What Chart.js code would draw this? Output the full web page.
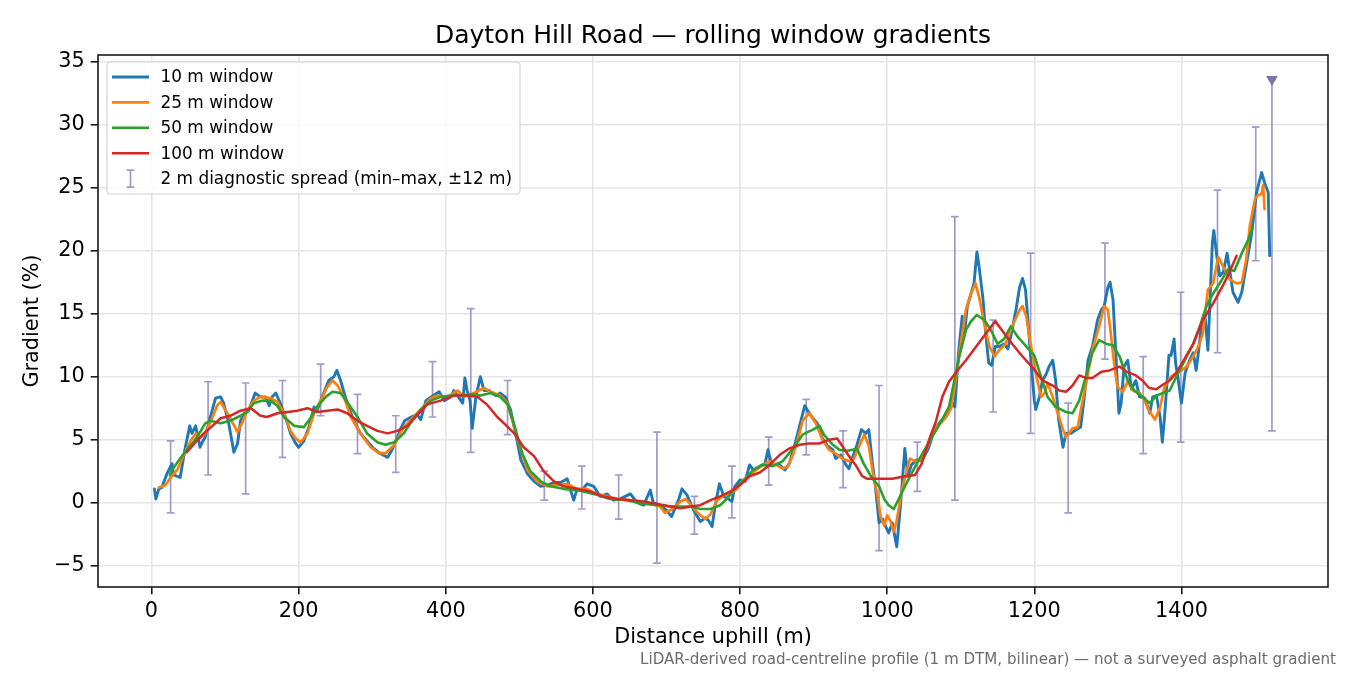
<!DOCTYPE html>
<html><head><meta charset="utf-8">
<script src="https://cdn.jsdelivr.net/npm/chart.js@4.4.0/dist/chart.umd.min.js"></script>
<style>html,body{margin:0;padding:0;background:#fff;}#wrap{width:1350px;height:675px;position:relative;}</style>
</head><body><div id="wrap"><canvas id="c" width="1350" height="675"></canvas></div>
<script>
const titleText = 'Dayton Hill Road \u2014 rolling window gradients';
const xLabelText = 'Distance uphill (m)';
const yLabelText = 'Gradient (%)';
const footText = 'LiDAR-derived road-centreline profile (1 m DTM, bilinear) \u2014 not a surveyed asphalt gradient';
const seriesLabels = ['10 m window', '25 m window', '50 m window', '100 m window'];
const errLabel = '2 m diagnostic spread (min\u2013max, \u00b112 m)';
const xTicks = [0, 200, 400, 600, 800, 1000, 1200, 1400];
const yTicks = [-5, 0, 5, 10, 15, 20, 25, 30, 35];

const dist10 = [4,6,10,14,21,28,30,39,46,52,
55,60,66,69,73,80,87,94,98,105,
112,117,121,126,132,141,148,155,160,164,
169,175,182,189,196,200,207,214,221,225,
232,241,248,252,257,266,275,284,293,302,
311,321,327,333,339,344,353,361,366,373,
380,391,398,407,411,416,423,426,429,433,
436,441,447,452,459,468,474,481,488,495,
502,511,520,529,538,547,556,565,569,574,
578,585,592,601,610,619,628,637,651,660,
669,678,682,691,700,707,714,717,721,728,
737,746,753,757,762,766,772,778,784,789,
793,800,807,813,818,827,834,838,843,852,
861,867,874,881,888,892,899,905,912,919,
926,930,937,944,948,953,959,965,971,975,
980,984,989,994,998,1002,1007,1013,1018,1024,
1028,1033,1040,1047,1056,1065,1075,1082,1089,1092,
1097,1102,1105,1109,1114,1118,1122,1125,1130,1134,
1138,1142,1147,1152,1159,1164,1168,1175,1180,1184,
1188,1192,1195,1200,1202,1207,1211,1216,1220,1225,
1229,1233,1239,1243,1250,1257,1263,1268,1273,1279,
1286,1291,1295,1300,1303,1307,1311,1315,1318,1322,
1327,1332,1338,1343,1350,1357,1361,1366,1371,1374,
1377,1380,1383,1386,1390,1392,1395,1400,1405,1411,
1416,1420,1423,1427,1432,1436,1439,1442,1444,1448,
1452,1457,1462,1466,1470,1477,1482,1488,1495,1502,
1509,1513,1518,1520];
const grad10 = [1.1,0.3,1.1,1.2,2.3,3.1,2.2,2.0,4.4,6.1,
5.5,6.1,4.4,4.8,5.2,6.8,8.3,8.4,7.9,6.3,
4.0,4.7,6.5,7.1,7.3,8.7,8.4,8.4,7.7,8.4,
8.7,7.9,6.8,5.5,4.7,4.4,4.9,6.0,7.6,7.3,
8.4,9.7,10.0,10.5,9.7,7.9,6.5,5.5,4.9,4.3,
3.9,3.6,4.2,5.0,5.9,6.5,6.8,7.0,6.6,8.1,
8.4,8.8,8.1,8.4,8.9,8.5,7.9,9.9,8.9,8.1,
5.9,8.4,10.0,8.9,8.9,8.5,8.7,8.4,7.4,5.5,
3.4,2.3,1.7,1.3,1.4,1.6,1.6,1.9,1.1,0.2,
1.0,1.0,1.5,1.3,0.5,0.7,0.2,0.3,0.7,0.0,
-0.2,1.0,0.0,-0.2,-0.6,-1.1,-0.1,0.3,1.1,0.6,
-0.6,-1.5,-1.2,-1.4,-1.9,-0.3,1.5,0.5,0.3,0.1,
1.3,1.8,1.7,3.0,2.6,2.9,3.1,4.2,3.0,3.1,
2.6,3.1,4.5,6.1,7.7,7.3,6.7,6.3,5.1,4.5,
4.2,3.5,3.8,3.0,2.7,3.6,4.6,5.8,5.5,5.8,
3.1,1.3,-1.6,-1.3,-1.9,-2.4,-1.6,-3.5,-0.3,4.3,
2.1,3.0,3.4,3.3,4.3,5.9,6.6,7.0,7.9,7.6,
11.9,14.8,13.4,15.6,16.6,17.4,19.9,18.7,16.3,13.4,
11.1,10.9,12.4,12.4,12.6,12.2,13.2,15.3,17.1,17.8,
16.9,14.0,11.6,8.1,7.4,8.4,9.7,10.2,10.8,11.3,
9.7,6.6,4.4,5.5,5.5,5.8,6.0,8.4,11.3,12.4,
14.5,15.3,15.6,17.1,17.5,16.1,11.6,7.1,7.9,10.8,
11.3,9.0,9.7,8.4,8.3,7.1,8.4,8.5,6.8,4.8,
6.8,9.2,11.7,11.7,13.0,11.1,10.0,7.9,10.3,11.3,
11.9,10.5,11.9,14.0,14.8,12.1,16.3,20.6,21.6,19.6,
18.0,18.3,19.8,18.3,16.7,15.9,16.7,18.8,21.2,24.6,
26.2,25.4,24.6,19.6];

const dist25 = [10,19,26,35,44,53,60,67,73,83,
89,94,101,107,117,123,130,139,148,162,
171,180,189,196,203,212,221,230,239,246,
253,262,271,280,289,298,307,318,330,343,
353,366,380,389,402,416,425,438,452,461,
474,484,493,502,511,524,538,551,565,578,
592,605,619,633,651,664,678,691,698,705,
712,719,726,735,744,753,760,769,778,787,
796,804,813,822,831,840,849,858,865,872,
879,885,894,903,912,921,930,939,948,955,
962,969,975,980,987,991,996,1000,1004,1009,
1013,1020,1027,1031,1038,1047,1056,1065,1071,1080,
1087,1093,1100,1107,1114,1120,1125,1132,1139,1146,
1152,1161,1170,1180,1184,1189,1195,1202,1209,1214,
1218,1225,1232,1239,1243,1252,1259,1264,1273,1279,
1288,1295,1300,1304,1309,1313,1320,1327,1334,1343,
1350,1356,1364,1371,1377,1386,1393,1400,1407,1416,
1423,1429,1436,1443,1450,1457,1466,1475,1482,1488,
1493,1500,1504,1509,1511,1513];
const grad25 = [1.2,1.4,2.0,2.6,3.8,4.9,5.5,5.2,5.5,6.8,
7.7,8.0,7.3,6.7,5.6,6.3,7.3,8.1,8.4,8.3,
8.0,7.1,5.7,5.1,4.8,5.5,7.1,8.1,9.2,9.7,
9.3,8.3,6.8,5.9,5.1,4.4,4.0,3.9,4.6,6.0,
6.6,7.4,8.3,8.5,8.4,8.9,8.4,8.7,9.1,8.8,
8.5,7.9,6.0,4.2,2.6,1.7,1.3,1.4,1.5,1.1,
1.1,0.7,0.5,0.3,0.2,0.1,-0.1,-0.3,-0.8,-0.6,
-0.3,0.1,0.3,-0.3,-0.9,-1.3,-0.9,0.2,0.6,0.7,
1.1,1.8,2.2,2.6,3.0,3.3,3.0,2.7,2.9,3.8,
5.1,6.5,7.1,6.3,5.0,4.2,3.9,3.5,3.3,3.5,
4.5,5.4,4.5,2.6,0.5,-1.1,-1.8,-1.0,-1.4,-2.3,
-1.4,1.0,2.6,3.5,3.3,3.4,4.6,6.0,6.2,6.8,
7.5,9.7,12.6,15.3,16.6,17.4,16.3,14.2,12.4,11.6,
12.1,12.6,14.0,15.3,15.6,14.8,12.6,10.3,8.4,8.7,
9.5,8.4,7.1,5.8,5.2,5.9,6.0,7.6,10.3,12.1,
14.0,15.6,15.3,13.4,10.8,9.2,8.8,9.6,8.9,8.7,
8.1,7.3,6.6,7.6,9.2,10.0,10.3,10.5,10.8,11.6,
12.4,13.4,16.9,17.4,19.5,18.7,17.7,17.4,17.5,19.3,
22.0,24.1,24.4,24.5,25.2,23.3];

const dist50 = [25,28,39,48,58,67,73,80,94,107,
121,130,139,150,162,171,180,194,207,216,
225,237,246,257,266,280,293,307,318,330,
343,353,366,380,393,407,420,434,447,461,
474,484,495,504,515,529,542,560,578,601,
623,646,669,691,706,719,733,746,760,773,
782,791,804,818,831,845,858,872,885,899,
908,914,926,935,944,953,959,968,980,989,
996,1002,1009,1015,1024,1033,1042,1051,1060,1070,
1084,1098,1107,1114,1122,1132,1141,1150,1159,1168,
1177,1189,1200,1209,1218,1229,1243,1252,1261,1270,
1279,1288,1298,1307,1316,1327,1336,1347,1357,1366,
1375,1384,1393,1400,1407,1416,1425,1434,1443,1454,
1463,1472,1482,1491,1497];
const grad50 = [2.2,2.6,3.5,4.2,4.9,5.7,6.3,6.5,6.3,6.5,
6.9,7.2,7.9,8.1,8.1,7.7,6.8,6.1,6.0,6.7,
7.6,8.4,8.8,8.7,8.0,6.8,5.5,4.8,4.6,4.8,
5.5,6.4,7.4,8.1,8.4,8.5,8.5,8.6,8.5,8.7,
8.4,7.8,5.8,3.9,2.5,1.7,1.3,1.1,1.0,0.7,
0.3,0.2,-0.1,-0.2,-0.3,-0.3,-0.3,-0.5,-0.5,-0.2,
0.3,1.0,1.7,2.6,3.0,2.9,3.3,4.3,5.4,5.8,
6.1,5.4,4.6,4.2,4.1,4.2,4.3,3.1,1.9,1.3,
0.3,-0.2,-0.5,0.2,1.3,2.3,3.3,4.2,5.1,6.1,
7.6,11.6,13.7,14.4,14.9,14.5,13.7,12.6,13.0,14.0,
13.2,12.4,11.7,10.0,8.4,7.6,7.2,7.1,8.1,10.0,
11.9,12.9,12.6,12.5,11.6,9.7,8.9,8.4,7.9,8.5,
8.7,8.9,10.0,10.8,11.6,12.6,14.0,15.6,16.6,17.6,
18.5,18.4,19.8,20.9,21.9];

const dist100 = [48,60,71,83,94,107,121,135,148,157,
171,185,198,212,225,239,253,266,280,293,
307,321,334,348,357,375,393,411,429,443,
456,470,481,493,506,520,533,547,560,578,
596,614,633,651,669,687,706,719,733,746,
760,773,787,800,813,827,840,854,867,881,
894,908,921,932,939,948,957,966,973,984,
1007,1024,1038,1047,1057,1066,1075,1084,1093,1107,
1121,1134,1147,1157,1170,1184,1198,1211,1225,1234,
1243,1252,1261,1270,1279,1291,1302,1316,1325,1338,
1347,1356,1366,1373,1384,1393,1402,1416,1429,1443,
1457,1466,1475];
const grad100 = [4.0,4.8,5.5,6.1,6.7,6.9,7.3,7.5,6.9,6.8,
7.1,7.2,7.3,7.5,7.2,7.3,7.4,7.1,6.5,6.1,
5.7,5.5,5.7,6.1,6.7,7.8,8.1,8.5,8.5,8.4,
7.8,6.8,6.2,5.5,4.4,3.7,2.5,1.7,1.3,1.1,
0.9,0.5,0.3,0.2,0.1,-0.1,-0.3,-0.45,-0.3,-0.2,
0.2,0.5,0.9,1.4,2.1,2.4,3.0,3.8,4.3,4.6,
4.7,4.7,5.0,5.1,4.5,3.7,3.0,2.1,1.9,1.9,
1.9,2.1,2.2,3.1,5.0,6.4,8.4,9.6,10.3,11.3,
12.4,13.4,14.4,13.6,12.6,11.6,10.7,9.7,9.3,8.9,
8.8,9.3,10.1,9.9,9.9,10.4,10.5,10.8,10.4,10.1,
9.7,9.1,9.0,9.3,9.7,10.3,11.2,12.6,14.5,15.8,
17.3,18.4,19.6];

const errDist = [26,77,128,178,230,280,332,382,434,484,534,585,635,687,738,789,839,890,940,989,1041,1092,1144,1195,1246,1296,1348,1399,1449,1501,1523];
const errMin = [-0.8,2.2,0.7,3.6,6.9,3.9,2.4,6.8,4.0,5.4,0.2,-0.5,-1.3,-4.8,-2.5,-1.2,1.4,3.8,1.2,-3.8,0.9,0.2,7.2,5.5,-0.8,11.4,3.9,4.8,11.9,19.2,5.7];
const errMax = [4.9,9.6,9.5,9.7,11.0,8.6,6.9,11.2,15.4,9.7,2.5,2.9,2.2,5.6,0.5,2.9,5.2,8.2,5.7,9.3,4.8,22.7,14.5,19.8,7.9,20.6,11.6,16.7,24.8,29.8,33.6];
const clipDist = [1523];
const clipVal = [33.6];

const colors = ['#1f77b4', '#ff7f0e', '#2ca02c', '#d62728'];
const widths = [2.9, 2.7, 2.6, 2.5];
const errColor = 'rgba(117,107,177,0.68)';
const FONT = "'DejaVu Sans', sans-serif";

function pts(xs, ys) { return xs.map((x, i) => ({x: x, y: ys[i]})); }
function fmt(v) { return v < 0 ? '\u2212' + Math.abs(v) : String(v); }

const seriesData = [pts(dist10, grad10), pts(dist25, grad25), pts(dist50, grad50), pts(dist100, grad100)];

const decor = {
  id: 'decor',
  beforeDatasetsDraw(chart) {
    const ctx = chart.ctx, xs = chart.scales.x, ys = chart.scales.y, a = chart.chartArea;
    ctx.save();
    ctx.beginPath(); ctx.rect(a.left, a.top, a.right - a.left, a.bottom - a.top); ctx.clip();
    ctx.strokeStyle = errColor; ctx.lineWidth = 1.7;
    errDist.forEach((d, i) => {
      const px = xs.getPixelForValue(d);
      const p1 = ys.getPixelForValue(errMin[i]), p2 = ys.getPixelForValue(errMax[i]);
      ctx.beginPath();
      ctx.moveTo(px, p1); ctx.lineTo(px, p2);
      ctx.moveTo(px - 3.8, p1); ctx.lineTo(px + 3.8, p1);
      ctx.moveTo(px - 3.8, p2); ctx.lineTo(px + 3.8, p2);
      ctx.stroke();
    });
    ctx.restore();
  },
  afterDraw(chart) {
    const ctx = chart.ctx, a = chart.chartArea;
    ctx.save();
    ctx.strokeStyle = '#1a1a1a'; ctx.lineWidth = 1.6;
    ctx.strokeRect(a.left, a.top, a.right - a.left, a.bottom - a.top);
    const lx = 107, ly = 62, lw = 413, lh = 132, r = 4;
    ctx.beginPath();
    ctx.moveTo(lx + r, ly); ctx.lineTo(lx + lw - r, ly); ctx.quadraticCurveTo(lx + lw, ly, lx + lw, ly + r);
    ctx.lineTo(lx + lw, ly + lh - r); ctx.quadraticCurveTo(lx + lw, ly + lh, lx + lw - r, ly + lh);
    ctx.lineTo(lx + r, ly + lh); ctx.quadraticCurveTo(lx, ly + lh, lx, ly + lh - r);
    ctx.lineTo(lx, ly + r); ctx.quadraticCurveTo(lx, ly, lx + r, ly); ctx.closePath();
    ctx.fillStyle = 'rgba(255,255,255,0.8)'; ctx.fill();
    ctx.strokeStyle = '#d4d4d4'; ctx.lineWidth = 1.2; ctx.stroke();
    ctx.font = '16.9px ' + FONT; ctx.textBaseline = 'middle'; ctx.textAlign = 'left';
    const rowY = i => 77 + i * 25.4;
    seriesLabels.forEach((lab, i) => {
      ctx.strokeStyle = colors[i]; ctx.lineWidth = widths[i];
      ctx.beginPath(); ctx.moveTo(112, rowY(i)); ctx.lineTo(149, rowY(i)); ctx.stroke();
      ctx.fillStyle = '#000'; ctx.fillText(lab, 160.5, rowY(i) + 1);
    });
    const ey = rowY(4);
    ctx.strokeStyle = errColor; ctx.lineWidth = 1.7;
    ctx.beginPath();
    ctx.moveTo(130.5, ey - 8.5); ctx.lineTo(130.5, ey + 8.5);
    ctx.moveTo(126.7, ey - 8.5); ctx.lineTo(134.3, ey - 8.5);
    ctx.moveTo(126.7, ey + 8.5); ctx.lineTo(134.3, ey + 8.5);
    ctx.stroke();
    ctx.fillStyle = '#000'; ctx.fillText(errLabel, 160.5, ey + 1);
    ctx.textAlign = 'center'; ctx.textBaseline = 'alphabetic';
    ctx.font = '25px ' + FONT; ctx.fillText(titleText, (a.left + a.right) / 2, 43);
    ctx.font = '20.8px ' + FONT; ctx.textBaseline = 'middle';
    ctx.fillText(xLabelText, (a.left + a.right) / 2, 638);
    ctx.save(); ctx.translate(33, (a.top + a.bottom) / 2); ctx.rotate(-Math.PI / 2);
    ctx.fillText(yLabelText, 0, 0); ctx.restore();
    ctx.font = '15.1px ' + FONT; ctx.fillStyle = '#6b6b6b'; ctx.textAlign = 'right';
    ctx.fillText(footText, 1336, 660);
    ctx.restore();
  }
};

const lineDs = (i, order) => ({
  type: 'line', label: seriesLabels[i], data: seriesData[i],
  borderColor: colors[i], backgroundColor: colors[i], borderWidth: widths[i],
  pointRadius: 0, pointHoverRadius: 0, tension: 0, fill: false, order: order,
  borderJoinStyle: 'round', borderCapStyle: 'round'
});

new Chart(document.getElementById('c'), {
  type: 'line',
  data: {
    datasets: [
      lineDs(0, 4), lineDs(1, 3), lineDs(2, 2), lineDs(3, 1),
      { type: 'scatter', label: 'clipped max', data: pts(clipDist, clipVal), pointStyle: 'triangle',
        rotation: 180, pointRadius: 6.8, pointHoverRadius: 6.8, backgroundColor: '#8072a8', borderWidth: 0, order: 0 }
    ]
  },
  options: {
    responsive: false, animation: false, devicePixelRatio: 1,
    layout: { padding: { top: 55, right: 22, left: 0, bottom: 0 } },
    plugins: { legend: { display: false }, title: { display: false }, tooltip: { enabled: false } },
    events: [],
    scales: {
      x: {
        type: 'linear', min: -72.7, max: 1599.2,
        afterFit: s => { s.height = 88; },
        afterBuildTicks: s => { s.ticks = xTicks.map(v => ({ value: v })); },
        ticks: { font: { size: 20.8, family: FONT }, color: '#000', padding: 5, maxRotation: 0, autoSkip: false, callback: v => fmt(v) },
        grid: { color: '#e6e6e6', lineWidth: 1.6, drawTicks: true, tickLength: 7.3, tickColor: '#1a1a1a', tickWidth: 1.6 },
        border: { display: false }
      },
      y: {
        type: 'linear', min: -6.69, max: 35.53,
        afterFit: s => { s.width = 98; },
        afterBuildTicks: s => { s.ticks = yTicks.map(v => ({ value: v })); },
        ticks: { font: { size: 20.8, family: FONT }, color: '#000', padding: 6, autoSkip: false, callback: v => fmt(v) },
        grid: { color: '#e6e6e6', lineWidth: 1.6, drawTicks: true, tickLength: 7.3, tickColor: '#1a1a1a', tickWidth: 1.6 },
        border: { display: false }
      }
    }
  },
  plugins: [decor]
});
</script></body></html>
